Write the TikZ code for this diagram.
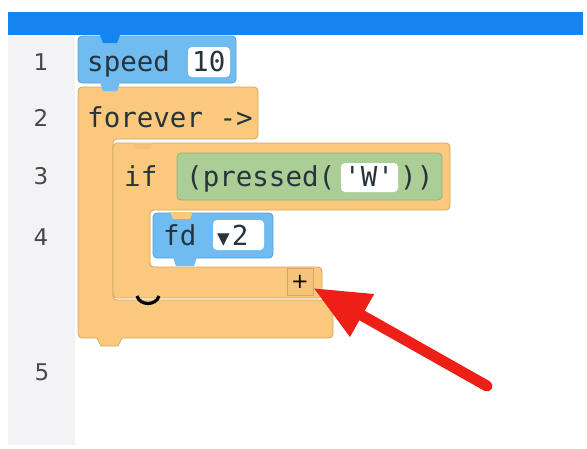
\documentclass[tikz,border=0pt]{standalone}
\usepackage{fontspec}
\setmonofont{DejaVu Sans Mono}
\setsansfont{DejaVu Sans}
\usepackage{tikz}
\usetikzlibrary{arrows.meta}
\definecolor{barblue}{RGB}{22,132,240}
\definecolor{gutter}{RGB}{243,243,246}
\definecolor{blockblue}{RGB}{112,187,240}
\definecolor{blueedge}{RGB}{84,160,216}
\definecolor{blockorange}{RGB}{250,201,125}
\definecolor{orangeedge}{RGB}{214,166,98}
\definecolor{blockgreen}{RGB}{171,206,150}
\definecolor{greenedge}{RGB}{140,180,120}
\definecolor{codeink}{RGB}{40,52,60}
\definecolor{arrowred}{RGB}{236,32,22}

\begin{document}
\begin{tikzpicture}[x=1pt,y=-1pt]
  \tikzstyle{linenum}=[font=\sffamily\fontsize{23}{26}\selectfont, text=black!72]
  \tikzstyle{codetext}=[font=\ttfamily\fontsize{27.5}{30}\selectfont, text=codeink, inner sep=0pt, anchor=base west]
  \tikzstyle{blueblk}=[fill=blockblue, draw=blueedge, line width=0.8pt, rounded corners=4pt]
  \tikzstyle{orangeblk}=[fill=blockorange, draw=orangeedge, line width=0.8pt, rounded corners=4pt]
  \tikzstyle{greenblk}=[fill=blockgreen, draw=greenedge, line width=0.8pt, rounded corners=4pt]
  \tikzstyle{field}=[fill=white, rounded corners=4pt]
  \useasboundingbox (0,0) rectangle (587,448);

  % editor frame
  \fill[gutter] (8,35) rectangle (75,445);
  \fill[barblue] (8,12) rectangle (583,35);
  \node[linenum] (n1) at (41,62) {1};
  \node[linenum] (n2) at (41,118) {2};
  \node[linenum] (n3) at (41,176) {3};
  \node[linenum] (n4) at (41,237) {4};
  \node[linenum] (n5) at (42,372) {5};

  % forever
  \draw[orangeblk] (78,87) -- (258,87) -- (258,139) -- (113,139) -- (113,300)
    -- (333,300) -- (333,338) -- (78,338) -- cycle;
  \fill[blockorange] (97,337) -- (101,346) -- (118,346) -- (122,337) -- cycle;
  \draw[orangeedge, line width=0.8pt] (97,338) -- (101,346) -- (118,346) -- (122,338);
  \node[codetext] (forever) at (87,127) {forever ->};

  % speed
  \draw[blueblk] (78,36) rectangle (236,83);
  \fill[barblue] (100,35) -- (103,43) -- (117,43) -- (120,35) -- cycle;
  \fill[blockblue] (100,82) -- (103,91) -- (117,91) -- (120,82) -- cycle;
  \node[codetext] (speed) at (87,71) {speed};
  \fill[field] (188,47) rectangle (230,77);
  \node[codetext] (ten) at (192,71) {10};

  % if
  \draw[orangeblk] (113,143) -- (450,143) -- (450,210) -- (150,210) -- (150,267)
    -- (322,267) -- (322,298) -- (113,298) -- cycle;
  \fill[blockorange!80!orangeedge] (133,143) -- (136,149) -- (150,149) -- (153,143) -- cycle;
  \node[codetext] (if) at (124,186) {if};
  \draw[greenblk] (177,153) rectangle (442,200);
  \node[codetext] (pressed) at (186,186) {(pressed(};
  \fill[field] (341,163) rectangle (398,192);
  \node[codetext] (key) at (344,186) {'W'};
  \node[codetext] (close) at (400,186) {))};
  \draw[line width=3.2pt] (137,296) .. controls (140,306) and (156,306) .. (159,296);

  % fd
  \draw[blueblk] (153,213) rectangle (273,258);
  \fill[blockorange] (170,212) -- (173,219) -- (190,219) -- (193,212) -- cycle;
  \fill[blockblue] (173,257) -- (176,266) -- (194,266) -- (197,257) -- cycle;
  \node[codetext] (fd) at (163,245) {fd};
  \fill[field] (213,220) rectangle (264,250);
  \node[codetext] (step) at (217,245) {{\fontsize{21}{22}\selectfont▼}\kern2pt 2};

  % plus button
  \node[fill=blockorange!85!orangeedge, draw=orangeedge, line width=0.6pt, minimum width=26pt,
    minimum height=27pt, inner sep=0pt, font=\sffamily\fontsize{21}{22}\selectfont] (plus) at (300,281.5) {+};

  % red arrow
  \coordinate (tail) at (487,386);
  \draw[arrowred, line width=11pt, line cap=round, -{Triangle[length=56pt, width=46pt]}]
    (tail) -- ([yshift=-6.5pt]plus.east);
\end{tikzpicture}
\end{document}
